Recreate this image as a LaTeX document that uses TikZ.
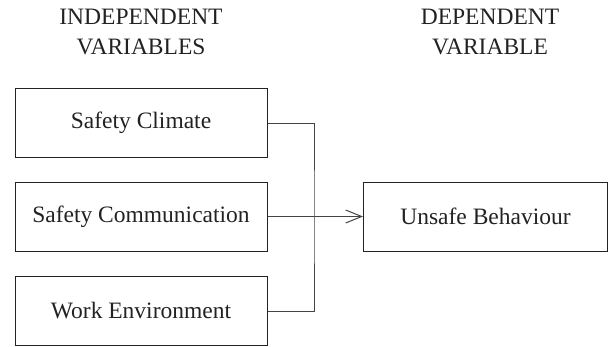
\documentclass[tikz,border=0pt]{standalone}
\usepackage{fontspec}
\newfontfamily\tnr{LiberationSerif-Regular.ttf}
\usetikzlibrary{arrows.meta}
\definecolor{ink}{HTML}{222222}
\definecolor{wire}{HTML}{444444}
\tikzset{
  varbox/.style={draw=ink, line width=1pt, minimum width=252pt, minimum height=69pt, inner sep=0pt, text=ink, font=\tnr\fontsize{23.5}{28}\selectfont},
  headtxt/.style={anchor=base, inner sep=0pt, text=ink, font=\tnr\fontsize{23.5}{28}\selectfont},
  wireline/.style={draw=wire, line width=1pt},
}
\begin{document}
\begin{tikzpicture}[x=1pt,y=-1pt]
\useasboundingbox (0,0) rectangle (609,346);
\node[headtxt] (h1a) at (141,24) {INDEPENDENT};
\node[headtxt] (h1b) at (141,54) {VARIABLES};
\node[headtxt] (h2a) at (490,24) {DEPENDENT};
\node[headtxt] (h2b) at (490,54) {VARIABLE};
\node[varbox] (b1) at (141,123) {Safety Climate};
\node[varbox] (b2) at (141,216.5) {Safety Communication};
\node[varbox] (b3) at (141,311) {Work Environment};
\node[varbox, minimum width=244pt] (ub) at (485.5,216.5) {Unsafe Behaviour};
\coordinate (j) at (314,216.5);
\draw[wireline] (b1.east) -| (j) |- (b3.east);
\draw[wireline, -{Straight Barb[length=16pt,width=13pt,line width=1pt]}] (b2.east) -- (ub.west);
\end{tikzpicture}
\end{document}
